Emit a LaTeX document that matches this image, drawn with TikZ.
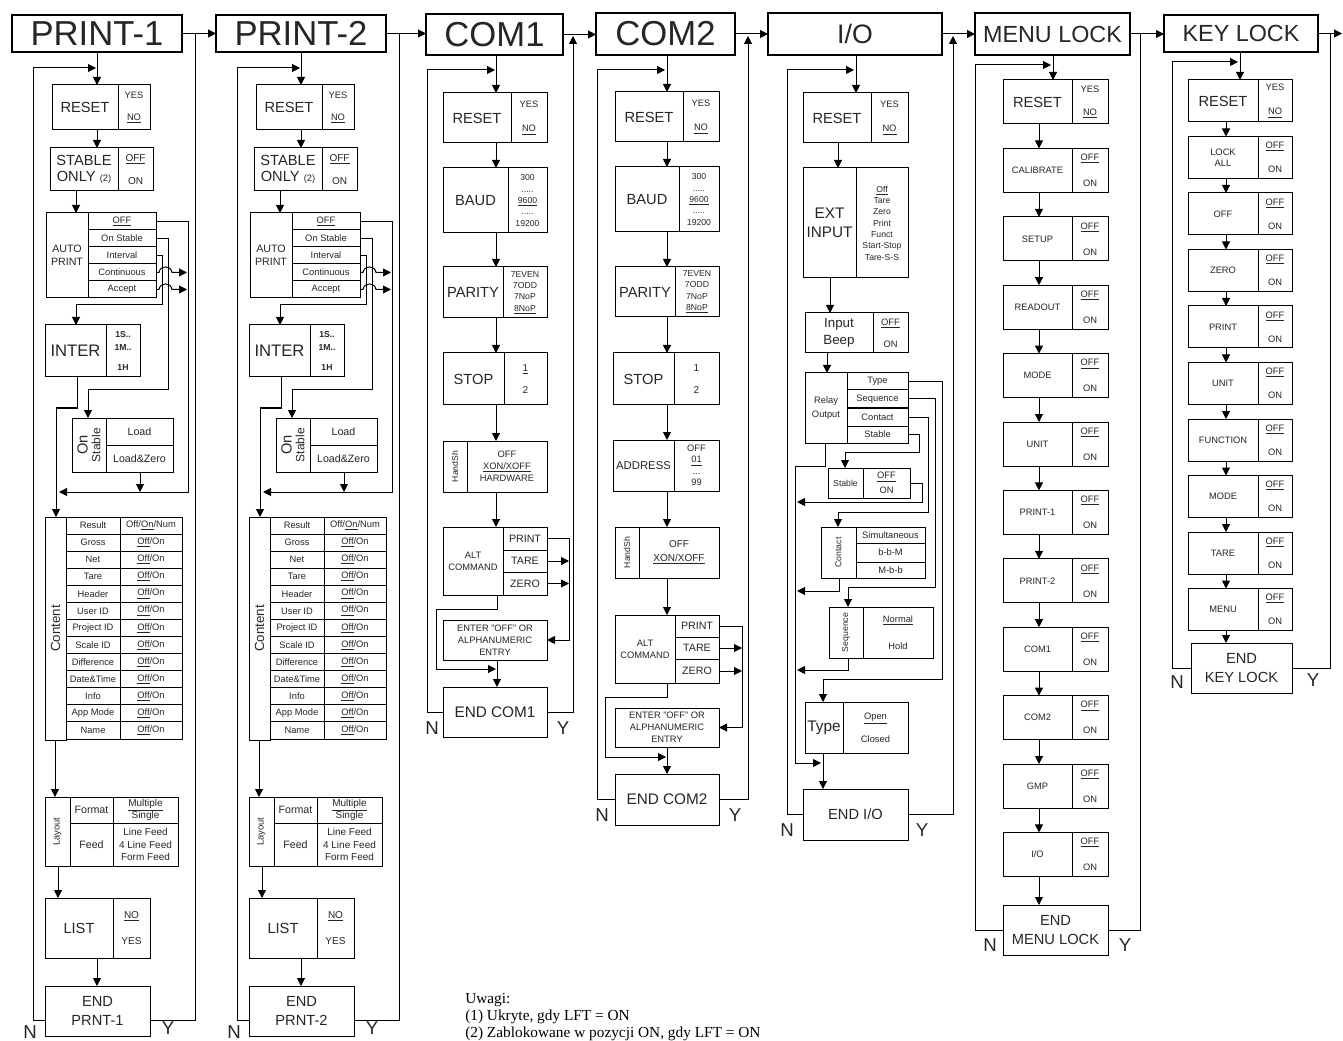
\documentclass[tikz,border=0pt]{standalone}
\usepackage{fontspec}
\setmainfont{Liberation Sans}
\newfontfamily\notefont{Liberation Serif}
\usepackage{graphicx}
\usetikzlibrary{arrows.meta}
\newcommand\fz[2]{\fontsize{#1}{#2}\selectfont}
\tikzset{
  cell/.style={draw, line width=0.75pt, inner sep=0pt, outer sep=0pt, align=center, anchor=north west, font=\fz{7}{8.5}, text=black!85},
  hdr/.style={line width=1.8pt},
  ln/.style={line width=0.75pt},
  arr/.style={ln, -{Triangle[length=6pt,width=6pt]}},
  lbl/.style={font=\fz{14}{16}, inner sep=0pt, text=black!85},
  note/.style={font=\notefont\fz{11.5}{14}, inner sep=0pt, anchor=base west},
}
\newcommand\cell[7][]{\node[cell,minimum width={(#5-#3)*0.75pt},minimum height={(#6-#4)*0.75pt},#1] (#2) at (#3,#4) {#7};}
\newcommand\printcol[2]{%
\cell[hdr,font=\fz{26}{30}]{#1hdr}{12}{15}{182}{52}{PRINT-#2}
\cell[font=\fz{11}{13}]{#1rl}{52}{85}{118}{130}{RESET}
\cell{#1rr}{118}{85}{150}{130}{YES\\[8pt]\underline{NO}}
\cell[font=\fz{11}{12}]{#1sl}{50}{148}{118}{191}{STABLE\\ONLY {\fz{7}{8}(2)}}
\cell[font=\fz{7.5}{9}]{#1sr}{118}{148}{153}{191}{\underline{OFF}\\[8pt]ON}
\cell[font=\fz{8}{10}]{#1al}{46}{213}{88}{298}{AUTO\\PRINT}
\cell{#1ap1}{88}{213}{156}{230}{\underline{OFF}}
\cell{#1ap2}{88}{230}{156}{247}{On Stable}
\cell{#1ap3}{88}{247}{156}{264}{Interval}
\cell{#1ap4}{88}{264}{156}{281}{Continuous}
\cell{#1ap5}{88}{281}{156}{298}{Accept}
\cell[font=\fz{12.5}{14}]{#1il}{45}{325}{106}{377}{INTER}
\cell[font=\bfseries\fz{6.5}{9.5}]{#1ir}{106}{325}{140}{377}{1S..\\1M..\\[6pt]1H}
\cell{#1ol}{72}{418}{106}{472}{\rotatebox{90}{\shortstack{{\fz{11}{12}On}\\{\fz{9}{10}Stable}}}}
\cell[font=\fz{8}{9}]{#1or1}{106}{418}{173}{445}{Load}
\cell[font=\fz{8}{9}]{#1or2}{106}{445}{173}{472}{Load\&Zero}
\cell[font=\fz{10}{12}]{#1cs}{45}{517}{66}{740}{\rotatebox{90}{Content}}
\foreach \nm [count=\k from 0] in {Result,Gross,Net,Tare,Header,User ID,Project ID,Scale ID,Difference,Date\&Time,Info,App Mode,Name}{
  \pgfmathsetmacro\ya{517+\k*17.08}
  \pgfmathsetmacro\yb{\ya+17.08}
  \cell{#1cl\k}{66}{\ya}{120}{\yb}{\nm}
  \cell{#1cr\k}{120}{\ya}{182}{\yb}{\ifnum\k=0 Off/\underline{On}/Num\else\underline{Off}/On\fi}
}
\cell[font=\fz{7}{8}]{#1ls}{45}{797}{70}{866}{\rotatebox{90}{Layout}}
\cell[font=\fz{8}{9}]{#1lf}{70}{797}{113}{823}{Format}
\cell[font=\fz{8}{9}]{#1lfe}{70}{823}{113}{866}{Feed}
\cell[font=\fz{7.5}{9.5}]{#1lfr}{113}{797}{178}{823}{\underline{Multiple}\\Single}
\cell[font=\fz{7.5}{9.5}]{#1lfer}{113}{823}{178}{866}{Line Feed\\4 Line Feed\\Form Feed}
\cell[font=\fz{11}{13}]{#1ll}{45}{898}{113}{958}{LIST}
\cell[font=\fz{7.5}{9}]{#1lr}{113}{898}{150}{958}{\underline{NO}\\[11pt]YES}
\cell[font=\fz{11}{14}]{#1end}{45}{986}{150}{1036}{END\\PRNT-#2}
\node[lbl] (#1N) at (30,1032) {N};
\node[lbl] (#1Y) at (168,1028) {Y};
% connectors
\draw[arr] (#1hdr.south -| 97,0) -- (#1rl.north -| 97,0);
\draw[arr] (#1end.west |- 0,1020) -- (33,1020) -- (33,68) -- (96,68);
\draw[ln] (#1end.east |- 0,1020) -- (195,1020) -- (195,33.5);
\draw[arr] (#1rl.south -| 97,0) -- (#1sl.north -| 97,0);
\draw[arr] (#1sl.south -| 76,0) -- (#1al.north -| 76,0);
\draw[arr] (#1ap1.east) -- (188,221.5) -- (188,492) -- (59,492);
\draw[arr] (#1ap2.east) -- (168,238.5) -- (168,390) -- (88,390) -- (#1ol.north -| 88,0);
\draw[arr] (#1ap3.east) -- (162,255.5) -- (162,305) -- (76,305) -- (#1il.north -| 76,0);
\draw[arr] (#1ap4.east) -- (159,272.5) .. controls (160,265) and (171,265) .. (172,272.5) -- (187,272.5);
\draw[arr] (#1ap5.east) -- (159,289.5) .. controls (160,282) and (171,282) .. (172,289.5) -- (187,289.5);
\draw[arr] (#1il.south -| 77,0) -- (77,408) -- (56,408) -- (#1cs.north -| 56,0);
\draw[arr] (#1or2.south -| 140,0) -- (140,492);
\draw[arr] (#1cs.south -| 55,0) -- (#1ls.north -| 55,0);
\draw[arr] (#1ls.south -| 58,0) -- (#1ll.north -| 58,0);
\draw[arr] (#1ll.south -| 97,0) -- (#1end.north -| 97,0);
}
\begin{document}
\begin{tikzpicture}[x=0.75pt,y=-0.75pt]
\fill[white] (0,0) rectangle (1343,1041);
\useasboundingbox (0,0) rectangle (1343,1041);
% ---------- PRINT columns
\printcol{p1}{1}
\begin{scope}[shift={(204,0)}]
\printcol{p2}{2}
\end{scope}
% ---------- COM1
\cell[hdr,font=\fz{26}{30}]{c1hdr}{426}{14}{563}{55}{COM1}
\cell[font=\fz{11}{13}]{c1rl}{443}{93}{511}{143}{RESET}
\cell{c1rr}{511}{93}{547}{143}{YES\\[9.5pt]\underline{NO}}
\cell[font=\fz{11}{13}]{c1bl}{443}{168}{508}{233}{BAUD}
\cell[font=\fz{6.5}{8.6}]{c1br}{508}{168}{547}{233}{300\\.....\\\underline{9600}\\.....\\19200}
\cell[font=\fz{11}{13}]{c1pl}{443}{267}{503}{318}{PARITY}
\cell[font=\fz{6.5}{8.5}]{c1pr}{503}{267}{547}{318}{7EVEN\\7ODD\\7NoP\\\underline{8NoP}}
\cell[font=\fz{11}{13}]{c1sl}{443}{353}{504}{405}{STOP}
\cell[font=\fz{7.5}{9}]{c1sr}{504}{353}{547}{405}{\underline{1}\\[7.5pt]2}
\cell[font=\fz{6.5}{8}]{c1hl}{443}{441}{467}{492}{\rotatebox{90}{HandSh}}
\cell[font=\fz{7}{9}]{c1hr}{467}{441}{547}{492}{OFF\\\underline{XON/XOFF}\\HARDWARE}
\cell[font=\fz{7}{9}]{c1al}{443}{527}{503}{595}{ALT\\COMMAND}
\cell[font=\fz{8}{9}]{c1a1}{503}{527}{547}{550}{PRINT}
\cell[font=\fz{8}{9}]{c1a2}{503}{550}{547}{572}{TARE}
\cell[font=\fz{8}{9}]{c1a3}{503}{572}{547}{595}{ZERO}
\cell[font=\fz{7}{9}]{c1en}{443}{620}{547}{660}{ENTER "OFF" OR\\ALPHANUMERIC\\ENTRY}
\cell[font=\fz{11.5}{13}]{c1end}{443}{687}{547}{737}{END COM1}
\node[lbl] (c1N) at (432,728) {N};
\node[lbl] (c1Y) at (563,728) {Y};
\draw[arr] (c1end.west) -- (427,712) -- (427,70) -- (495,70);
\draw[arr] (c1hdr.south -| 496,0) -- (c1rl.north -| 496,0);
\draw[arr] (c1rl.south -| 496,0) -- (c1bl.north -| 496,0);
\draw[arr] (c1bl.south -| 496,0) -- (c1pl.north -| 496,0);
\draw[arr] (c1pl.south -| 496,0) -- (c1sl.north -| 496,0);
\draw[arr] (c1sl.south -| 496,0) -- (c1hr.north -| 496,0);
\draw[arr] (c1hr.south -| 496,0) -- (c1al.north -| 496,0);
\draw[arr] (c1a1.east) -- (569,538.5) -- (569,640) -- (c1en.east);
\draw[arr] (c1a2.east) -- (569,561);
\draw[arr] (c1a3.east) -- (569,583.5);
\draw[arr] (c1al.south -| 497,0) -- (497,609) -- (436,609) -- (436,669) -- (496,669);
\draw[arr] (c1en.south -| 497,0) -- (c1end.north -| 497,0);
\draw[arr] (c1end.east) -- (573,712) -- (573,36);
% ---------- COM2
\cell[hdr,font=\fz{26}{30}]{c2hdr}{596}{13}{735}{55}{COM2}
\cell[font=\fz{11}{13}]{c2rl}{615}{92}{683}{142}{RESET}
\cell{c2rr}{683}{92}{719}{142}{YES\\[9.5pt]\underline{NO}}
\cell[font=\fz{11}{13}]{c2bl}{615}{167}{679}{232}{BAUD}
\cell[font=\fz{6.5}{8.6}]{c2br}{679}{167}{719}{232}{300\\.....\\\underline{9600}\\.....\\19200}
\cell[font=\fz{11}{13}]{c2pl}{615}{267}{675}{317}{PARITY}
\cell[font=\fz{6.5}{8.5}]{c2pr}{675}{267}{719}{317}{7EVEN\\7ODD\\7NoP\\\underline{8NoP}}
\cell[font=\fz{11}{13}]{c2sl}{613}{353}{674}{405}{STOP}
\cell[font=\fz{7.5}{9}]{c2sr}{674}{353}{719}{405}{1\\[7.5pt]2}
\cell[font=\fz{8.5}{10}]{c2adl}{613}{440}{674}{491}{ADDRESS}
\cell[font=\fz{7}{8.6}]{c2adr}{674}{440}{719}{491}{OFF\\\underline{01}\\...\\99}
\cell[font=\fz{6.5}{8}]{c2hl}{615}{527}{639}{578}{\rotatebox{90}{HandSh}}
\cell[font=\fz{7.5}{10}]{c2hr}{639}{527}{719}{578}{OFF\\\underline{XON/XOFF}}
\cell[font=\fz{7}{9}]{c2al}{615}{615}{675}{683}{ALT\\COMMAND}
\cell[font=\fz{8}{9}]{c2a1}{675}{615}{719}{637}{PRINT}
\cell[font=\fz{8}{9}]{c2a2}{675}{637}{719}{659}{TARE}
\cell[font=\fz{8}{9}]{c2a3}{675}{659}{719}{683}{ZERO}
\cell[font=\fz{7}{9}]{c2en}{615}{708}{719}{747}{ENTER "OFF" OR\\ALPHANUMERIC\\ENTRY}
\cell[font=\fz{11.5}{13}]{c2end}{615}{774}{719}{825}{END COM2}
\node[lbl] (c2N) at (602,815) {N};
\node[lbl] (c2Y) at (735,815) {Y};
\draw[arr] (c2end.west) -- (597,799.5) -- (597,70) -- (665,70);
\draw[arr] (c2hdr.south -| 667,0) -- (c2rl.north -| 667,0);
\draw[arr] (c2rl.south -| 667,0) -- (c2bl.north -| 667,0);
\draw[arr] (c2bl.south -| 667,0) -- (c2pl.north -| 667,0);
\draw[arr] (c2pl.south -| 667,0) -- (c2sl.north -| 667,0);
\draw[arr] (c2sl.south -| 667,0) -- (c2adl.north -| 667,0);
\draw[arr] (c2adl.south -| 667,0) -- (c2hr.north -| 667,0);
\draw[arr] (c2hr.south -| 667,0) -- (c2al.north -| 667,0);
\draw[arr] (c2a1.east) -- (742,626) -- (742,727.5) -- (c2en.east);
\draw[arr] (c2a2.east) -- (742,648);
\draw[arr] (c2a3.east) -- (742,671);
\draw[arr] (c2al.south -| 667,0) -- (667,697) -- (605,697) -- (605,757) -- (666,757);
\draw[arr] (c2en.south -| 667,0) -- (c2end.north -| 667,0);
\draw[arr] (c2end.east) -- (748,799.5) -- (748,36);
% ---------- I/O
\cell[hdr,font=\fz{20}{24}]{iohdr}{768}{13}{942}{55}{I/O}
\cell[font=\fz{11}{13}]{iorl}{803}{93}{871}{143}{RESET}
\cell{iorr}{871}{93}{908}{143}{YES\\[9.5pt]\underline{NO}}
\cell[font=\fz{11.5}{14}]{ioel}{803}{168}{856}{278}{EXT\\INPUT}
\cell[font=\fz{6.5}{8.5}]{ioer}{856}{168}{908}{278}{\underline{Off}\\Tare\\Zero\\Print\\Funct\\Start-Stop\\Tare-S-S}
\cell[font=\fz{10}{12.5}]{iobl}{805}{313}{873}{353}{Input\\Beep}
\cell{iobr}{873}{313}{908}{353}{\underline{OFF}\\[8pt]ON}
\cell[font=\fz{7}{10}]{iorel}{805}{373}{847}{443}{Relay\\Output}
\cell{iora1}{847}{373}{908}{390}{Type}
\cell{iora2}{847}{390}{908}{408}{Sequence}
\cell{iora3}{847}{408}{908}{426}{Contact}
\cell{iora4}{847}{426}{908}{443}{Stable}
\cell[font=\fz{6.5}{8}]{iostl}{828}{468}{863}{498}{Stable}
\cell[font=\fz{7}{11}]{iostr}{863}{468}{910}{498}{\underline{OFF}\\ON}
\cell[font=\fz{6.5}{8}]{iocs}{821}{527}{856}{578}{\rotatebox{90}{Contact}}
\cell{iocr1}{856}{527}{925}{543}{Simultaneous}
\cell{iocr2}{856}{543}{925}{562}{b-b-M}
\cell{iocr3}{856}{562}{925}{578}{M-b-b}
\cell[font=\fz{6.5}{8}]{iosqs}{829}{607}{863}{658}{\rotatebox{90}{Sequence}}
\cell[font=\fz{7}{8.5}]{iosqr}{863}{607}{933}{658}{\underline{Normal}\\[11.5pt]Hold}
\cell[font=\fz{11.5}{14}]{iotl}{805}{702}{843}{753}{Type}
\cell[font=\fz{7}{8.5}]{iotr}{843}{702}{908}{753}{\underline{Open}\\[8pt]Closed}
\cell[font=\fz{11}{13}]{ioend}{803}{789}{908}{840}{END I/O}
\node[lbl] (ioN) at (787,830) {N};
\node[lbl] (ioY) at (922,830) {Y};
\draw[arr] (ioend.west) -- (787,814.5) -- (787,70) -- (854,70);
\draw[arr] (iohdr.south -| 856,0) -- (iorl.north -| 856,0);
\draw[arr] (iorl.south -| 838,0) -- (ioel.north -| 838,0);
\draw[arr] (ioel.south -| 830,0) -- (iobl.north -| 830,0);
\draw[arr] (iobl.south -| 827,0) -- (iorel.north -| 827,0);
\draw[arr] (iora1.east) -- (942,381.5) -- (942,679) -- (823,679) -- (iotl.north -| 823,0);
\draw[arr] (iora2.east) -- (935,399) -- (935,587) -- (848,587) -- (iosqs.north -| 848,0);
\draw[arr] (iora3.east) -- (928,417) -- (928,512) -- (838,512) -- (iocs.north -| 838,0);
\draw[arr] (iora4.east) -- (919,434.5) -- (919,452) -- (845,452) -- (iostl.north -| 845,0);
\draw[arr] (iorel.south -| 825,0) -- (825,466) -- (795,466) -- (795,763) -- (821,763);
\draw[arr] (iostr.east |- 0,483) -- (922,483) -- (922,502) -- (797,502);
\draw[arr] (iocs.south -| 839,0) -- (839,591) -- (797,591);
\draw[arr] (iosqs.south -| 848,0) -- (848,670) -- (797,670);
\draw[arr] (iotl.south -| 823,0) -- (ioend.north -| 823,0);
\draw[arr] (ioend.east) -- (953,814.5) -- (953,36);
% ---------- MENU LOCK
\cell[hdr,font=\fz{17.5}{20}]{mlhdr}{975}{13}{1130}{55}{MENU LOCK}
\foreach \nm [count=\k from 0] in {RESET,CALIBRATE,SETUP,READOUT,MODE,UNIT,PRINT-1,PRINT-2,COM1,COM2,GMP,I/O}{
 \pgfmathsetmacro\ya{80+68.4*\k}
 \pgfmathsetmacro\yb{\ya+44}
 \ifnum\k=0
  \cell[font=\fz{11}{13}]{mll\k}{1003}{\ya}{1072}{\yb}{\nm}
  \cell{mlr\k}{1072}{\ya}{1108}{\yb}{YES\\[8.5pt]\underline{NO}}
 \else
  \cell[font=\fz{7}{8.5}]{mll\k}{1003}{\ya}{1072}{\yb}{\nm}
  \cell[font=\fz{7}{8.5}]{mlr\k}{1072}{\ya}{1108}{\yb}{\underline{OFF}\\[11pt]ON}
  \pgfmathtruncatemacro\kp{\k-1}
  \draw[arr] (mll\kp.south -| 1039,0) -- (mll\k.north -| 1039,0);
 \fi
}
\cell[font=\fz{11}{14}]{mlend}{1003}{905}{1108}{955}{END\\MENU LOCK}
\node[lbl] (mlN) at (990,945) {N};
\node[lbl] (mlY) at (1125,945) {Y};
\draw[arr] (mll11.south -| 1039,0) -- (mlend.north -| 1039,0);
\draw[arr] (mlend.west |- 0,930) -- (975,930) -- (975,65) -- (1051,65);
\draw[arr] (mlhdr.south -| 1053,0) -- (mll0.north -| 1053,0);
\draw[ln] (mlend.east |- 0,930) -- (1140,930) -- (1140,34);
% ---------- KEY LOCK
\cell[hdr,font=\fz{17.5}{20}]{klhdr}{1164}{15}{1318}{52}{KEY LOCK}
\foreach \nm [count=\k from 0] in {RESET,LOCK\\ALL,OFF,ZERO,PRINT,UNIT,FUNCTION,MODE,TARE,MENU}{
 \pgfmathsetmacro\ya{80+56.5*\k}
 \pgfmathsetmacro\yb{\ya+42}
 \ifnum\k=0
  \cell[font=\fz{11}{13}]{kll\k}{1188}{\ya}{1258}{\yb}{\nm}
  \cell{klr\k}{1258}{\ya}{1292}{\yb}{YES\\[9.5pt]\underline{NO}}
 \else
  \cell[font=\fz{7}{8.5}]{kll\k}{1188}{\ya}{1258}{\yb}{\nm}
  \cell[font=\fz{7}{8.5}]{klr\k}{1258}{\ya}{1292}{\yb}{\underline{OFF}\\[9.5pt]ON}
  \pgfmathtruncatemacro\kp{\k-1}
  \draw[arr] (kll\kp.south -| 1226,0) -- (kll\k.north -| 1226,0);
 \fi
}
\cell[font=\fz{11}{14}]{klend}{1191}{643}{1292}{693}{END\\KEY LOCK}
\node[lbl] (klN) at (1177,682) {N};
\node[lbl] (klY) at (1313,680) {Y};
\draw[arr] (kll9.south -| 1226,0) -- (klend.north -| 1226,0);
\draw[arr] (klend.west |- 0,668) -- (1172,668) -- (1172,62) -- (1238,62);
\draw[arr] (klhdr.south -| 1240,0) -- (kll0.north -| 1240,0);
\draw[ln] (klend.east |- 0,668) -- (1330,668) -- (1330,34);
\coordinate (klout) at (1342,33.5);
\draw[arr] (klhdr.east) -- (klout);
% ---------- header chain
\draw[arr] (p1hdr.east) -- (p2hdr.west |- p1hdr.east);
\draw[arr] (p2hdr.east) -- (c1hdr.west |- p2hdr.east);
\draw[arr] (c1hdr.east) -- (c2hdr.west |- c1hdr.east);
\draw[arr] (c2hdr.east) -- (iohdr.west |- c2hdr.east);
\draw[arr] (iohdr.east) -- (mlhdr.west |- iohdr.east);
\draw[arr] (mlhdr.east) -- (klhdr.west |- mlhdr.east);
% ---------- notes
\node[note] (n0) at (465,1003) {Uwagi:};
\node[note] (n1) at (465,1020) {(1) Ukryte, gdy LFT = ON};
\node[note] (n2) at (465,1037) {(2) Zablokowane w pozycji ON, gdy LFT = ON};
\end{tikzpicture}
\end{document}
